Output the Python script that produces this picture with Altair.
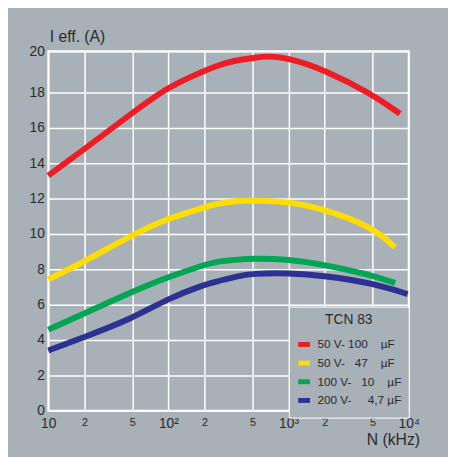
import altair as alt
import pandas as pd

# Frequency (kHz) and effective current (A)
n_red = [10, 20, 50, 100, 200, 250, 365, 500, 680, 1000, 2000, 5000, 8450]
i_red = [13.3, 14.8, 16.85, 18.3, 19.05, 19.3, 19.57, 19.67, 19.78, 19.67, 19.1, 17.9, 16.8]

n_yellow = [10, 20, 50, 100, 200, 250, 365, 500, 1000, 2000, 5000, 7700]
i_yellow = [7.43, 8.44, 9.95, 10.9, 11.5, 11.7, 11.88, 11.9, 11.83, 11.4, 10.4, 9.24]

n_green = [10, 20, 50, 100, 200, 250, 365, 500, 1000, 2000, 5000, 7700]
i_green = [4.59, 5.5, 6.74, 7.57, 8.26, 8.44, 8.54, 8.62, 8.57, 8.26, 7.66, 7.22]

n_blue = [10, 20, 50, 100, 200, 250, 365, 500, 1000, 2000, 5000, 9800]
i_blue = [3.41, 4.17, 5.22, 6.36, 7.14, 7.3, 7.6, 7.76, 7.8, 7.64, 7.22, 6.6]

F = "\u2007"   # figure space (digit width)
P = "\u2008"   # punctuation space
series_labels = [
    F + "50 V- 100" + F + P + " µF",
    F + "50 V- " + F + "47" + F + P + " µF",
    "100 V- " + F + "10" + F + P + " µF",
    "200 V- " + F + F + "4,7 µF",
]
series_colors = ["#ee1c25", "#ffdd00", "#00a651", "#2e3192"]

x_ticks = [10, 20, 50, 100, 200, 500, 1000, 2000, 5000, 10000]
y_ticks = [0, 2, 4, 6, 8, 10, 12, 14, 16, 18, 20]

rows = []
for lab, ns, vals in zip(series_labels,
                         [n_red, n_yellow, n_green, n_blue],
                         [i_red, i_yellow, i_green, i_blue]):
    for n, v in zip(ns, vals):
        rows.append({"N": n, "I": v, "series": lab})
df = pd.DataFrame(rows)

FONT = "Liberation Sans Narrow, Liberation Sans, Arial Narrow, sans-serif"
TXT = "#2b2b2b"
BG = "#a8b0b8"

label_expr = (
    "datum.value == 10 ? '10' : datum.value == 100 ? '10\u00b2' : "
    "datum.value == 1000 ? '10\u00b3' : datum.value == 10000 ? '10\u2074' : "
    "(indexof([20, 200, 2000], datum.value) >= 0 ? '2' : '5')"
)

chart = alt.Chart(df).mark_line(strokeWidth=6, interpolate="basis", strokeCap="butt").encode(
    x=alt.X(
        "N:Q",
        scale=alt.Scale(type="log", domain=[10, 10000], nice=False),
        axis=alt.Axis(
            values=x_ticks,
            labelExpr=label_expr,
            labelFontSize={"condition": {"test": "indexof([10, 100, 1000, 10000], datum.value) >= 0", "value": 14}, "value": 11},
            labelBaseline="top",
            labelPadding=6,
            ticks=False,
            domain=False,
            title="N (kHz)",
            titleFontSize=16,
            titleFontWeight="normal",
            titleAlign="right",
            titleAnchor="end",
            titleBaseline="alphabetic",
            titleX=378,
            titleY=34,
            labelFlush=False,
            labelOverlap=False,
        ),
    ),
    y=alt.Y(
        "I:Q",
        scale=alt.Scale(domain=[0, 18, 20], range=[366, 42, 0], zero=False, nice=False),
        axis=alt.Axis(
            values=y_ticks,
            labelFontSize=14,
            labelPadding=4,
            ticks=False,
            domain=False,
            title="I eff. (A)",
            titleAngle=0,
            titleAlign="left",
            titleBaseline="alphabetic",
            titleFontSize=16,
            titleFontWeight="normal",
            titleX=1,
            titleY=-10,
        ),
    ),
    color=alt.Color(
        "series:N",
        scale=alt.Scale(domain=series_labels, range=series_colors),
        sort=series_labels,
        legend=alt.Legend(
            title="TCN 83",
            orient="none",
            legendX=245,
            legendY=260,
            titleAnchor="middle",
            titleFontSize=14,
            titleFontWeight="normal",
            titleColor=TXT,
            titlePadding=9,
            labelFontSize=12,
            labelColor=TXT,
            labelOffset=5,
            labelLimit=200,
            symbolType="stroke",
            symbolSize=144,
            symbolStrokeWidth=5,
            rowPadding=-7,
            padding=7,
            fillColor=BG,
            strokeColor="white",
        ),
    ),
).properties(
    width=367,
    height=366,
    autosize=alt.AutoSizeParams(type="none"),
    padding={"left": 41, "top": 40, "right": 40, "bottom": 43},
    background=BG,
).configure(
    font=FONT,
).configure_axis(
    gridColor="white",
    gridWidth=1.5,
    gridOpacity=1,
    labelColor=TXT,
    titleColor=TXT,
    labelFont=FONT,
    titleFont=FONT,
).configure_legend(
    labelFont=FONT,
    titleFont=FONT,
).configure_view(
    stroke="white",
    strokeWidth=2,
)

chart.save("out.html", embed_options={"renderer": "svg", "actions": False})
